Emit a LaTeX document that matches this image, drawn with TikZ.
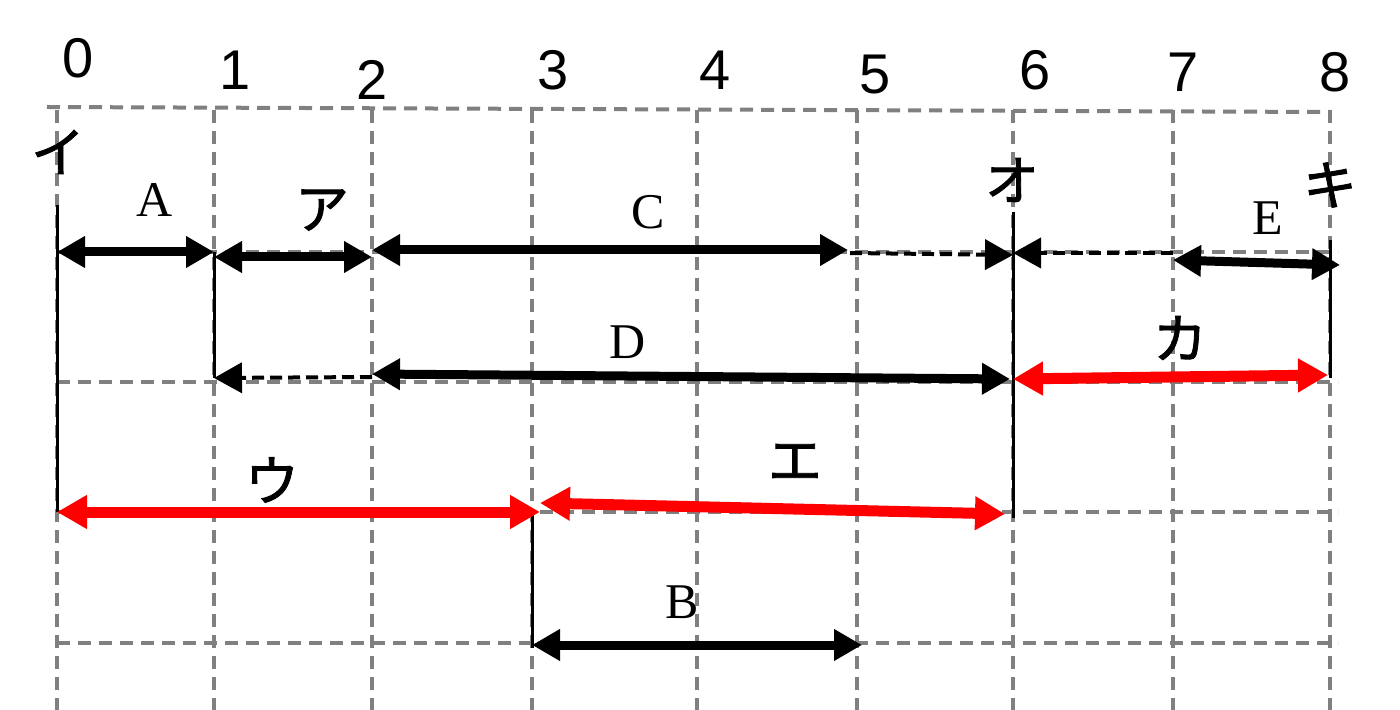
\documentclass[tikz,border=0pt]{standalone}
\usepackage{fontspec}
\setmainfont{Liberation Serif}
\newfontfamily\jpfont[FakeBold=1.5]{Noto Sans CJK JP}
\newfontfamily\numfont{Liberation Sans}
\usetikzlibrary{arrows.meta}

\tikzset{
  gridline/.style={draw=gray, line width=2pt, dash pattern=on 6.5pt off 4pt},
  extline/.style={draw=black, line width=1.5pt},
  blackdim/.style={draw=black, line width=4.5pt, >={Triangle[length=14pt,width=15pt]}},
  dashdim/.style={draw=black, line width=2pt, dash pattern=on 6pt off 3pt, >={Triangle[length=14pt,width=15pt]}},
  reddim/.style={draw=red, line width=5.5pt, >={Triangle[length=15pt,width=16pt]}},
  numlabel/.style={font=\numfont\fontsize{28}{32}\selectfont, inner sep=0pt},
  letlabel/.style={font=\fontsize{25}{29}\selectfont, inner sep=0pt},
  kanalabel/.style={font=\jpfont\fontsize{27}{31}\selectfont, inner sep=0pt}
}

\begin{document}
\begin{tikzpicture}[x=0.5pt, y=-0.5pt]
\useasboundingbox (0,0) rectangle (1400,710);

% grid
\draw[gridline] (47,107) -- (1330,112);
\foreach \y in {252,382,512,643}
  \draw[gridline] (57,\y) -- (1338,\y);
\foreach \x in {57,214,372,532,697,857,1013,1173,1330}
  \draw[gridline] (\x,110) -- (\x,710);

% scale numbers
\foreach \n/\x/\y in {0/78/58, 1/235/70, 2/372/80, 3/553/70, 4/715/70, 5/875/75, 6/1035/70, 7/1183/72, 8/1335/72}
  \node[numlabel] (num\n) at (\x,\y) {\n};

% end points
\coordinate (i0) at (57,205);   \coordinate (i1) at (57,512);
\coordinate (r1) at (214,252);  \coordinate (r2) at (214,378);
\coordinate (o0) at (1013,212); \coordinate (o1) at (1013,518);
\coordinate (k0) at (1330,240); \coordinate (k1) at (1330,378);
\coordinate (u0) at (532,512);  \coordinate (u1) at (532,648);

% extension lines
\draw[extline] (i0) -- (i1);
\draw[extline] (r1) -- (r2);
\draw[extline] (o0) -- (o1);
\draw[extline] (k0) -- (k1);
\draw[extline] (u0) -- (u1);

% top row
\coordinate (a0) at (57,252);   \coordinate (a1) at (214,252);
\coordinate (b0) at (214,257);  \coordinate (b1) at (372,257);
\coordinate (c0) at (372,250);  \coordinate (c1) at (848,250);
\coordinate (c2) at (850,253);  \coordinate (c3) at (1013,255);
\coordinate (e0) at (1173,253); \coordinate (e1) at (1013,253);
\coordinate (e2) at (1173,260); \coordinate (e3) at (1340,265);
\draw[blackdim, <->] (a0) -- (a1);
\draw[blackdim, <->] (b0) -- (b1);
\draw[blackdim, <->] (c0) -- (c1);
\draw[dashdim, ->] (c2) -- (c3);
\draw[dashdim, ->] (e0) -- (e1);
\draw[blackdim, <->] (e2) -- (e3);

% middle row
\coordinate (d0) at (372,377);  \coordinate (d1) at (214,378);
\coordinate (d2) at (372,374);  \coordinate (d3) at (1010,379);
\coordinate (f0) at (1013,379); \coordinate (f1) at (1328,375);
\draw[dashdim, ->] (d0) -- (d1);
\draw[blackdim, <->] (d2) -- (d3);
\draw[reddim, <->] (f0) -- (f1);

% lower rows
\coordinate (w0) at (57,512);   \coordinate (w1) at (540,512);
\coordinate (x0) at (540,503);  \coordinate (x1) at (1005,514);
\coordinate (g0) at (532,645);  \coordinate (g1) at (862,645);
\draw[reddim, <->] (w0) -- (w1);
\draw[reddim, <->] (x0) -- (x1);
\draw[blackdim, <->] (g0) -- (g1);

% labels
\node[kanalabel] (lblI)  at (58,152)   {イ};
\node[letlabel]  (lblA)  at (155,200)  {A};
\node[kanalabel] (lblAa) at (322,210)  {ア};
\node[letlabel]  (lblC)  at (648,212)  {C};
\node[kanalabel] (lblO)  at (1012,180) {オ};
\node[letlabel]  (lblE)  at (1268,218) {E};
\node[kanalabel] (lblKi) at (1330,185) {キ};
\node[letlabel]  (lblD)  at (628,342)  {D};
\node[kanalabel] (lblKa) at (1180,338) {カ};
\node[kanalabel] (lblU)  at (272,480)  {ウ};
\node[kanalabel] (lblEe) at (795,462)  {エ};
\node[letlabel]  (lblB)  at (682,602)  {B};
\end{tikzpicture}
\end{document}
